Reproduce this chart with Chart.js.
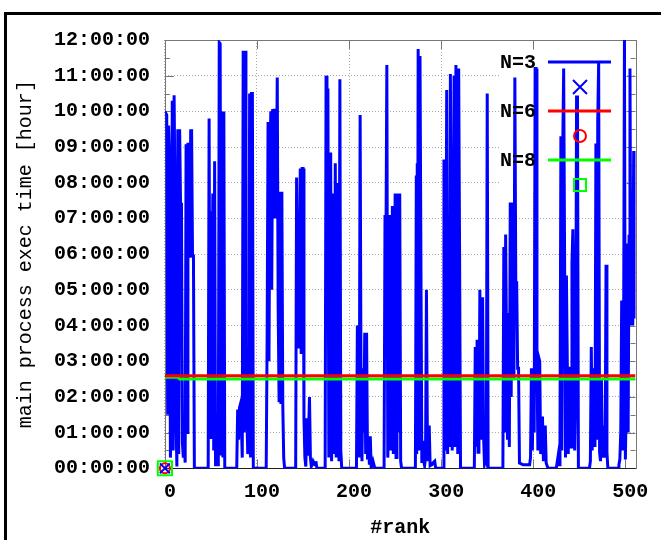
<!DOCTYPE html>
<html>
<head>
<meta charset="utf-8">
<script src="https://cdn.jsdelivr.net/npm/chart.js@4"></script>
<style>
	body { margin: 0; background: #fff; overflow: hidden; }
	canvas { display: block; }
</style>
</head>
<body>
<canvas id="myChart" width="661" height="540"></canvas>
<script>
var xTicks = [0, 100, 200, 300, 400, 500];
var yTicks = [0, 1, 2, 3, 4, 5, 6, 7, 8, 9, 10, 11, 12];

// N=3, exec time per rank (hours)
var blueRank = [
	0, 2, 3, 4, 5, 6, 7, 8, 9, 10, 11, 12, 13, 14, 15, 16, 17, 18, 19, 20, 21, 22, 23, 24, 25, 26, 27, 28, 29, 30, 31, 32,
	47, 48, 49, 50, 51, 52, 53, 54, 55, 58, 59, 60, 61, 62, 63, 64, 65,
	78, 79, 80, 81, 82, 83, 84, 85, 86, 87, 88, 89, 90, 91, 92, 93, 94, 95, 96,
	110, 111, 112, 113, 114, 115, 116, 117, 118, 119, 120, 121, 122, 123, 124, 125, 126, 127, 128, 129, 130,
	142, 143, 144, 145, 146, 147, 148, 149, 150, 151, 152, 153, 154, 155, 156, 157, 158, 159, 160, 161, 163, 164, 165,
	174, 175, 176, 177, 178, 179, 180, 181, 182, 183, 184, 185, 186, 187, 188, 189, 190, 191, 192,
	208, 209, 210, 211, 212, 213, 214, 215, 216, 217, 218, 219, 220, 221, 222, 223, 224, 226, 228,
	238, 239, 240, 241, 242, 243, 244, 245, 246, 247, 248, 249, 250, 251, 252, 253, 254, 255, 256, 257,
	272, 273, 273.5, 274, 274.5, 275, 276, 277, 278, 279, 280, 281, 282, 283, 284, 285, 286, 287, 288, 290, 291, 293, 294,
	302, 303, 304, 305, 306, 307, 308, 309, 310, 311, 312, 313, 314, 315, 316, 317, 318, 319, 320, 321,
	336, 337, 338, 339, 340, 341, 342, 343, 344, 345, 346, 347, 348, 349, 350, 351,
	367, 368, 369, 370, 371, 372, 373, 374, 375, 376, 377, 378, 379, 380, 381, 382, 383, 384, 385, 389,
	396, 397, 398, 399, 400, 401, 402, 403, 404, 405, 406, 407, 408, 409, 410, 411, 412, 413, 414, 416,
	425, 427, 428, 429, 430, 431, 432, 433, 434, 435, 436, 437, 438, 439, 440, 441, 442, 443, 444, 445, 446, 447, 448, 449,
	461, 462, 463, 464, 465, 466, 467, 468, 469, 470, 471, 472, 473, 474, 475, 476, 477, 478, 479, 480, 481,
	492, 493, 494, 495, 496, 497, 498, 499, 500, 501, 502, 503, 504, 505, 506, 507, 508, 509, 510, 511
];
var blueHours = [
	10.0, 9.9, 1.5, 9.6, 8.6, 0.3, 1.47, 10.3, 0.5, 10.45, 7.4, 1.5, 0.05, 9.5, 0.4, 9.5, 7.4, 7.4, 0.72, 0.3, 0.72, 0.16, 9.08, 1.0, 9.08, 9.08, 5.9, 9.46, 9.46, 5.95, 5.95, 0,
	0, 9.8, 0.86, 7.2, 1.0, 7.7, 0.5, 8.6, 0.1, 0.1, 11.93, 11.9, 0.4, 10.0, 0.3, 10.0, 0,
	0, 1.65, 0.8, 1.7, 1.8, 1.3, 0.3, 11.7, 1.0, 11.7, 1.55, 1.4, 0.4, 0.6, 10.5, 0.3, 10.5, 10.5, 0,
	0, 3.66, 9.7, 3.0, 8.35, 10.0, 5.0, 10.07, 7.0, 10.07, 7.0, 7.8, 10.95, 4.5, 1.85, 7.75, 1.8, 7.75, 1.8, 0.3, 0,
	0, 8.15, 3.4, 3.4, 6.0, 8.4, 3.2, 8.4, 8.4, 1.4, 0.3, 0.05, 1.4, 0.35, 1.0, 2.0, 0.3, 0.05, 0.1, 0.2, 0.1, 0.2, 0,
	0, 11.0, 10.6, 10.6, 0.3, 4.45, 8.85, 0.2, 3.35, 7.7, 0.4, 8.55, 0.3, 7.95, 7.95, 0.2, 10.9, 0.5, 0,
	0, 4.0, 2.8, 0.3, 9.9, 1.85, 0.2, 2.8, 1.0, 3.8, 0.4, 3.8, 0.25, 0.9, 0.1, 0.9, 0, 0.2, 0,
	0, 7.1, 6.05, 11.3, 0.3, 1.23, 7.1, 0.5, 2.4, 7.35, 0.4, 2.6, 7.7, 0.3, 2.6, 7.7, 1.0, 7.7, 0.2, 0,
	0, 8.2, 0.4, 8.55, 4.2, 11.75, 0.5, 11.55, 11.55, 0.15, 0.77, 0.2, 0.07, 0.3, 5.0, 0.9, 0.2, 1.2, 0.07, 0.1, 0.15, 0.2, 0,
	0, 8.65, 0.5, 3.4, 10.6, 0.4, 5.9, 0.6, 11.05, 5.75, 0.5, 5.15, 11.0, 0.6, 11.3, 5.4, 0.4, 11.2, 5.95, 0,
	0, 3.4, 0.6, 3.6, 0.45, 0.65, 5.0, 0.8, 4.75, 4.75, 0.9, 0.15, 0.3, 0.2, 10.5, 0,
	0, 6.2, 1.0, 6.55, 3.4, 0.8, 4.35, 0.6, 7.45, 2.0, 7.45, 6.1, 2.5, 10.95, 5.2, 5.2, 2.8, 2.8, 0.15, 0.1,
	0.1, 0.3, 2.8, 0.5, 2.6, 1.0, 11.2, 11.2, 3.15, 0.5, 3.1, 3.0, 0.4, 0.6, 1.45, 0.2, 0.45, 1.2, 0.15, 0,
	0, 0.35, 0.1, 0.8, 9.3, 0.5, 9.0, 11.2, 5.95, 0.3, 5.4, 2.8, 0.4, 2.8, 2.8, 0.6, 5.75, 6.7, 4.5, 0.5, 2.0, 10.4, 10.4, 0,
	0, 0.2, 3.4, 0.5, 2.8, 1.0, 0.6, 9.1, 0.8, 9.75, 11.4, 0.45, 0.2, 2.5, 0.3, 1.2, 0.6, 0.3, 5.7, 0.45, 0,
	0, 0.1, 0.25, 1.0, 4.7, 0.5, 2.8, 12.0, 0.25, 2.0, 6.3, 1.0, 6.5, 11.2, 4.0, 6.0, 4.0, 8.85, 8.85, 4.2
];
// N=6 and N=8
var redRank = [0, 511];
var redHours = [2.59, 2.59];
var greenRank = [0, 14, 16, 511];
var greenHours = [2.55, 2.55, 2.5, 2.5];
// the single point sample drawn at rank 0
var markRank = [0];
var markHours = [0];

var keyLabels = ["N=3", "N=6", "N=8"];
var keyColors = ["#0000ff", "#ff0000", "#00ff00"];
var keyMarks = ["crossRot", "circle", "rect"];

function pairs(xs, ys) {
	var out = [];
	for (var i = 0; i < xs.length; i++) out.push({x: xs[i], y: ys[i]});
	return out;
}

function hhmmss(v) {
	return (v < 10 ? "0" : "") + v + ":00:00";
}

var monoFont = "'Liberation Mono', 'Courier New', monospace";

var gnuplotLook = {
	id: 'gnuplotLook',
	beforeDraw: function(chart) {
		var ctx = chart.ctx;
		ctx.save();
		ctx.fillStyle = '#000';
		ctx.fillRect(4, 12, 3, 600);
		ctx.fillRect(4, 12, 700, 3);
		ctx.restore();
	},
	beforeDatasetsDraw: function(chart) {
		var ctx = chart.ctx, a = chart.chartArea;
		var sx = chart.scales.x, sy = chart.scales.y;
		ctx.save();
		// key box hides the grid behind it
		ctx.fillStyle = '#fff';
		ctx.fillRect(500, 50, 124, 142);

		ctx.strokeStyle = '#777';
		ctx.lineWidth = 1;
		ctx.beginPath();
		for (var h = 0; h <= 12; h += 0.5) {
			var py = Math.round(sy.getPixelForValue(h)) + 0.5;
			var len = (h % 1 === 0) ? 9 : 5;
			ctx.moveTo(a.left, py); ctx.lineTo(a.left + len, py);
			ctx.moveTo(a.right, py); ctx.lineTo(a.right - len, py);
		}
		xTicks.forEach(function(v) {
			var px = Math.round(sx.getPixelForValue(v)) + 0.5;
			ctx.moveTo(px, a.top); ctx.lineTo(px, a.top + 9);
			ctx.moveTo(px, a.bottom); ctx.lineTo(px, a.bottom - 9);
		});
		ctx.stroke();

		ctx.strokeRect(Math.round(a.left) + 0.5, Math.round(a.top) + 0.5,
			Math.round(a.right - a.left), Math.round(a.bottom - a.top));
		ctx.strokeStyle = '#222';
		ctx.beginPath();
		ctx.moveTo(a.left, Math.round(a.bottom) + 0.5);
		ctx.lineTo(a.right, Math.round(a.bottom) + 0.5);
		ctx.stroke();
		ctx.restore();
	},
	afterDraw: function(chart) {
		var ctx = chart.ctx;
		ctx.save();
		ctx.font = "bold 20px " + monoFont;
		ctx.textAlign = 'right';
		ctx.textBaseline = 'middle';
		for (var i = 0; i < keyLabels.length; i++) {
			var y = 62 + i * 49;
			ctx.fillStyle = '#000';
			ctx.fillText(keyLabels[i], 536, y + 1);
			ctx.strokeStyle = keyColors[i];
			ctx.lineWidth = 3;
			ctx.beginPath();
			ctx.moveTo(548, y); ctx.lineTo(611, y);
			ctx.stroke();
			ctx.lineWidth = 2;
			var my = y + 25, mx = 580;
			ctx.beginPath();
			if (keyMarks[i] === 'crossRot') {
				ctx.moveTo(mx - 7, my - 7); ctx.lineTo(mx + 7, my + 7);
				ctx.moveTo(mx - 7, my + 7); ctx.lineTo(mx + 7, my - 7);
			} else if (keyMarks[i] === 'circle') {
				ctx.arc(mx, my, 6, 0, Math.PI * 2);
			} else {
				ctx.rect(mx - 6, my - 6, 12, 12);
			}
			ctx.stroke();
		}
		ctx.restore();
	}
};

var ctx = document.getElementById("myChart");
var myChart = new Chart(ctx, {
	type: 'scatter',
	data: {
		datasets: [
			{ data: pairs(markRank, markHours), showLine: false, pointStyle: 'crossRot', pointRadius: 7,
				borderColor: keyColors[0], backgroundColor: 'transparent', pointBorderWidth: 2, clip: false, order: 0 },
			{ data: pairs(markRank, markHours), showLine: false, pointStyle: 'circle', pointRadius: 5,
				borderColor: keyColors[1], backgroundColor: 'transparent', pointBorderWidth: 2, clip: false, order: 1 },
			{ data: pairs(markRank, markHours), showLine: false, pointStyle: 'rect', pointRadius: 10,
				borderColor: keyColors[2], backgroundColor: 'transparent', pointBorderWidth: 2, clip: false, order: 2 },
			{ data: pairs(redRank, redHours), showLine: true, pointRadius: 0, borderColor: keyColors[1],
				borderWidth: 3, tension: 0, order: 3 },
			{ data: pairs(greenRank, greenHours), showLine: true, pointRadius: 0, borderColor: keyColors[2],
				borderWidth: 3, tension: 0, order: 4 },
			{ data: pairs(blueRank, blueHours), showLine: true, pointRadius: 0, borderColor: keyColors[0],
				borderWidth: 3, tension: 0, borderJoinStyle: 'miter', order: 5 }
		]
	},
	options: {
		responsive: false,
		animation: false,
		events: [],
		layout: { padding: { top: 40, right: 25.5, left: 0, bottom: 0 } },
		plugins: { legend: { display: false }, tooltip: { enabled: false } },
		scales: {
			x: {
				type: 'linear', min: 0, max: 511,
				afterBuildTicks: function(s) { s.ticks = xTicks.map(function(v) { return {value: v}; }); },
				afterFit: function(s) { s.height = 71.7; },
				grid: { color: '#aaa', drawTicks: false, tickLength: 0 },
				border: { display: false, dash: [1, 2] },
				ticks: { color: '#000', padding: 12, labelOffset: 5, maxRotation: 0, autoSkip: false,
					font: { family: monoFont, size: 20, weight: 'bold' } },
				title: { display: true, text: '#rank', color: '#000', padding: { top: 0, bottom: 0 },
					font: { family: monoFont, size: 20, weight: 'bold' } }
			},
			y: {
				type: 'linear', min: 0, max: 12,
				afterBuildTicks: function(s) { s.ticks = yTicks.map(function(v) { return {value: v}; }); },
				afterFit: function(s) { s.width = 164.9; },
				grid: { color: '#aaa', drawTicks: false, tickLength: 0 },
				border: { display: false, dash: [1, 2] },
				ticks: { color: '#000', padding: 15, autoSkip: false,
					font: { family: monoFont, size: 20, weight: 'bold' },
					callback: function(v) { return hhmmss(v); } },
				title: { display: true, text: 'main process exec time [hour]', color: '#000',
					padding: { top: 14, bottom: 0 },
					font: { family: monoFont, size: 20, weight: 'normal' } }
			}
		}
	},
	plugins: [gnuplotLook]
});
</script>
</body>
</html>
